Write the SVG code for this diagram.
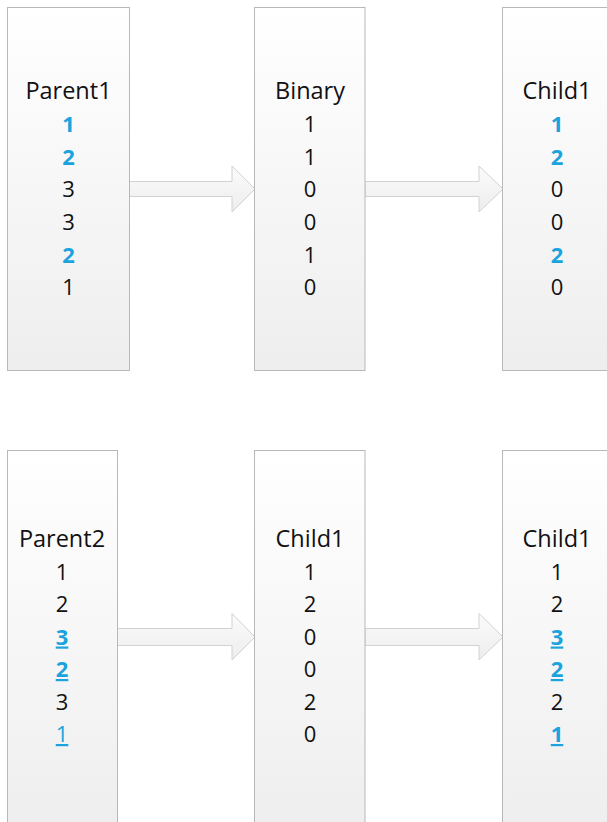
<svg xmlns="http://www.w3.org/2000/svg" width="607" height="822" viewBox="0 0 607 822">
<defs>
<linearGradient id="boxg" x1="0" y1="0" x2="0" y2="1">
<stop offset="0" stop-color="#ffffff"/>
<stop offset="1" stop-color="#eeeeee"/>
</linearGradient>
<linearGradient id="arrg" x1="0" y1="0" x2="0" y2="1">
<stop offset="0" stop-color="#fbfbfb"/>
<stop offset="1" stop-color="#ededed"/>
</linearGradient>
</defs>
<style>
.box{fill:url(#boxg);stroke:#b8b8b8;stroke-width:1}
.arr{fill:url(#arrg);stroke:#d2d2d2;stroke-width:1;stroke-linejoin:miter}
text{font-family:"Open Sans","Noto Sans","DejaVu Sans",sans-serif;text-anchor:middle;fill:#111111}
.t{font-size:23.5px}
.d{font-size:22px}
.b{fill:#1ba3de;font-weight:bold}
.bl{fill:#1ba3de}
.u{text-decoration:underline}
</style>
<rect width="607" height="822" fill="#ffffff"/>
<g id="connectors">
<polygon class="arr" points="129,181.5 232,181.5 232,166 255,189 232,212 232,196.5 129,196.5"/>
<polygon class="arr" points="365,181.5 479,181.5 479,166 503,189 479,212 479,196.5 365,196.5"/>
<polygon class="arr" points="117,628.5 232,628.5 232,613.5 255,637 232,660 232,645.5 117,645.5"/>
<polygon class="arr" points="365,628.5 479,628.5 479,613.5 503,637 479,660 479,645.5 365,645.5"/>
</g>
<g id="parent1">
<rect class="box" x="7.5" y="7.5" width="122" height="363"/>
<text class="t" x="68.5" y="99">Parent1</text>
<text class="d b" x="68.5" y="132">1</text>
<text class="d b" x="68.5" y="164.5">2</text>
<text class="d" x="68.5" y="197">3</text>
<text class="d" x="68.5" y="230">3</text>
<text class="d b" x="68.5" y="262.5">2</text>
<text class="d" x="68.5" y="295">1</text>
</g>
<g id="binary">
<rect class="box" x="254.5" y="7.5" width="110.5" height="363"/>
<text class="t" x="310" y="99">Binary</text>
<text class="d" x="310" y="132">1</text>
<text class="d" x="310" y="164.5">1</text>
<text class="d" x="310" y="197">0</text>
<text class="d" x="310" y="230">0</text>
<text class="d" x="310" y="262.5">1</text>
<text class="d" x="310" y="295">0</text>
</g>
<g id="child1-top">
<rect class="box" x="502.5" y="7.5" width="115" height="363"/>
<text class="t" x="557" y="99">Child1</text>
<text class="d b" x="557" y="132">1</text>
<text class="d b" x="557" y="164.5">2</text>
<text class="d" x="557" y="197">0</text>
<text class="d" x="557" y="230">0</text>
<text class="d b" x="557" y="262.5">2</text>
<text class="d" x="557" y="295">0</text>
</g>
<g id="parent2">
<rect class="box" x="7.5" y="450.5" width="110" height="380"/>
<text class="t" x="62" y="547">Parent2</text>
<text class="d" x="62" y="579.5">1</text>
<text class="d" x="62" y="612">2</text>
<text class="d b u" x="62" y="644.5">3</text>
<text class="d b u" x="62" y="677">2</text>
<text class="d" x="62" y="709.5">3</text>
<text class="d bl u" x="62" y="742">1</text>
</g>
<g id="child1-mid">
<rect class="box" x="254.5" y="450.5" width="110.5" height="380"/>
<text class="t" x="310" y="547">Child1</text>
<text class="d" x="310" y="579.5">1</text>
<text class="d" x="310" y="612">2</text>
<text class="d" x="310" y="644.5">0</text>
<text class="d" x="310" y="677">0</text>
<text class="d" x="310" y="709.5">2</text>
<text class="d" x="310" y="742">0</text>
</g>
<g id="child1-bottom">
<rect class="box" x="502.5" y="450.5" width="115" height="380"/>
<text class="t" x="557" y="547">Child1</text>
<text class="d" x="557" y="579.5">1</text>
<text class="d" x="557" y="612">2</text>
<text class="d b u" x="557" y="644.5">3</text>
<text class="d b u" x="557" y="677">2</text>
<text class="d" x="557" y="709.5">2</text>
<text class="d b u" x="557" y="742">1</text>
</g>
</svg>
